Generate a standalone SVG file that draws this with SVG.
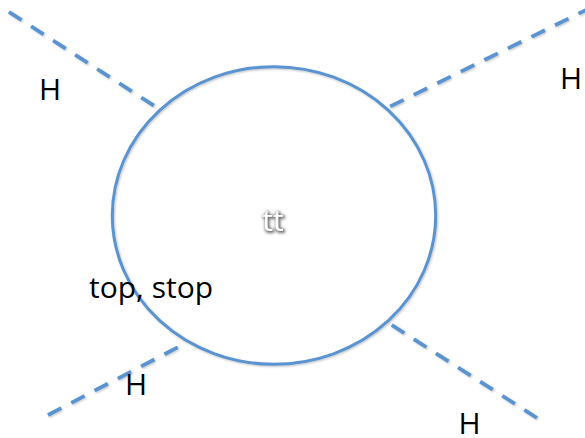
<svg xmlns="http://www.w3.org/2000/svg" width="585" height="438" viewBox="0 0 585 438">
  <defs>
    <filter id="shadow" x="-10%" y="-10%" width="120%" height="120%">
      <feGaussianBlur in="SourceAlpha" stdDeviation="1.2"/>
      <feOffset dx="1.2" dy="1.2" result="b"/>
      <feFlood flood-color="#000" flood-opacity="0.25"/>
      <feComposite in2="b" operator="in" result="s"/>
      <feMerge><feMergeNode in="s"/><feMergeNode in="SourceGraphic"/></feMerge>
    </filter>
    <filter id="glow" x="-50%" y="-50%" width="200%" height="200%">
      <feMorphology in="SourceAlpha" operator="dilate" radius="0.8" result="d"/>
      <feGaussianBlur in="d" stdDeviation="1.5"/>
      <feOffset dx="0.5" dy="0.8" result="b"/>
      <feFlood flood-color="#6a6a6a" flood-opacity="1"/>
      <feComposite in2="b" operator="in" result="s"/>
      <feMerge><feMergeNode in="s"/><feMergeNode in="SourceGraphic"/></feMerge>
    </filter>
  </defs>
  <style>
    .ring { fill: none; stroke: #5A93D0; stroke-width: 3; }
    .dash { fill: none; stroke: #5A93D0; stroke-width: 3.75; stroke-dasharray: 15 11.25; }
    .lbl { font-family: "Open Sans", "Liberation Sans", sans-serif; font-size: 30px; fill: #000; }
    .h { text-anchor: middle; }
    .ghost { font-family: "Open Sans", "Liberation Sans", sans-serif; font-size: 30px; fill: #fff; text-anchor: middle; }
  </style>
  <rect width="585" height="438" fill="#fff"/>
  <g id="connectors" filter="url(#shadow)">
    <line class="dash" x1="9" y1="12" x2="159" y2="109"/>
    <line class="dash" x1="592" y1="7" x2="387" y2="108"/>
    <line class="dash" x1="48" y1="415" x2="184" y2="344"/>
    <line class="dash" x1="537" y1="418" x2="387" y2="322"/>
  </g>
  <g id="loop" filter="url(#shadow)">
    <ellipse class="ring" cx="274" cy="215.5" rx="161.7" ry="148.8"/>
  </g>
  <g id="center">
    <text class="ghost" x="273" y="231" filter="url(#glow)">tt</text>
  </g>
  <g id="label-top-stop">
    <text class="lbl" x="89" y="298">top, stop</text>
  </g>
  <g id="H-top-left"><text class="lbl h" x="50" y="100">H</text></g>
  <g id="H-top-right"><text class="lbl h" x="571" y="89">H</text></g>
  <g id="H-bottom-left"><text class="lbl h" x="136" y="395">H</text></g>
  <g id="H-bottom-right"><text class="lbl h" x="469.5" y="434">H</text></g>
</svg>
